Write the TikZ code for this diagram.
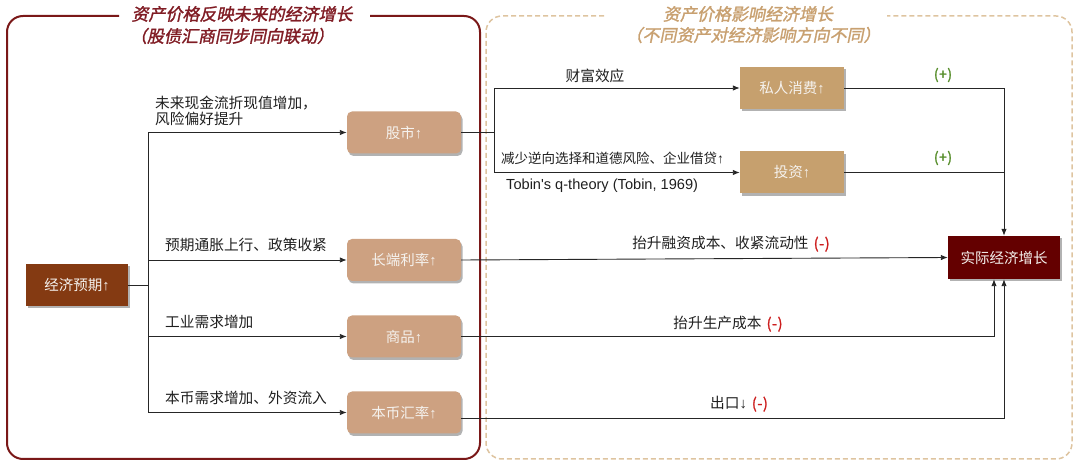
\documentclass[tikz,border=0pt]{standalone}
\usepackage{fontspec}
\setmainfont{Noto Sans CJK SC}
\newfontfamily\latinfont{Liberation Sans}
\newfontfamily\titlefont[FakeSlant=0.2,FakeBold=1.5]{Noto Sans CJK SC}
\newfontfamily\boldcjk[FakeBold=1.5]{Noto Sans CJK SC}
\usetikzlibrary{arrows.meta,shadows}

\definecolor{leftred}{RGB}{122,24,24}
\definecolor{titlered}{RGB}{128,28,36}
\definecolor{tanline}{RGB}{222,196,160}
\definecolor{tantitle}{RGB}{200,160,112}
\definecolor{expfill}{RGB}{132,58,18}
\definecolor{assetfill}{RGB}{205,161,129}
\definecolor{effectfill}{RGB}{198,160,110}
\definecolor{growthfill}{RGB}{100,0,0}
\definecolor{minusred}{RGB}{204,30,30}
\definecolor{plusgreen}{RGB}{84,140,40}
\definecolor{boxtext}{RGB}{245,242,238}

\newcommand\uparr{{\latinfont ↑}}
\newcommand\downarr{{\latinfont ↓}}
\newcommand\minussign{\kern5pt{\boldcjk\color{minusred}(\kern0.5pt-\kern0.5pt)}}

\tikzset{
  boxbase/.style={minimum height=42pt, text=boxtext, inner sep=0pt,
    font=\fontsize{14.5}{16}\selectfont,
    drop shadow={shadow xshift=1.5pt,shadow yshift=-2.5pt,opacity=0.3,fill=black}},
  asset/.style={boxbase, fill=assetfill, rounded corners=5pt, minimum width=114pt},
  effect/.style={boxbase, fill=effectfill, minimum width=104pt},
  expbox/.style={boxbase, fill=expfill, minimum width=102pt},
  growth/.style={boxbase, fill=growthfill, minimum width=112pt, minimum height=43pt},
  lbl/.style={font=\fontsize{14.7}{16}\selectfont, inner sep=0pt, text=black!88},
  plus/.style={font=\boldcjk\fontsize{14}{16}\selectfont, inner sep=0pt, text=plusgreen},
  ttl/.style={font=\titlefont\fontsize{17}{19}\selectfont, inner sep=0pt},
  conn/.style={draw=black!85, line width=0.9pt},
  arr/.style={conn, -{Latex[length=7pt,width=5.5pt]}},
}

\begin{document}
\begin{tikzpicture}[x=1pt,y=-1pt]
\useasboundingbox (0,0) rectangle (1080,470);

% frames
\draw[leftred, line width=2pt, rounded corners=16pt]
  (119,16) -- (7,16) -- (7,459) -- (480,459) -- (480,16) -- (370,16);
\draw[tanline, line width=1.5pt, dash pattern=on 5pt off 3pt, rounded corners=16pt]
  (604,16) -- (486,16) -- (486,459) -- (1072,459) -- (1072,16) -- (887,16);

\node[ttl, text=titlered] (t1) at (242,14) {资产价格反映未来的经济增长};
\node[ttl, text=titlered] (t2) at (232,36) {（股债汇商同步同向联动）};
\node[ttl, text=tantitle] (t3) at (748,14) {资产价格影响经济增长};
\node[ttl, text=tantitle] (t4) at (753,35) {（不同资产对经济影响方向不同）};

% nodes
\node[expbox] (exp) at (77,285) {经济预期\uparr};
\node[asset] (stock) at (404,132.5) {股市\uparr};
\node[asset] (rate) at (404,260) {长端利率\uparr};
\node[asset] (comm) at (404,336.5) {商品\uparr};
\node[asset] (fx) at (404,412.5) {本币汇率\uparr};
\node[effect] (cons) at (792,88) {私人消费\uparr};
\node[effect] (inv) at (792,172.5) {投资\uparr};
\node[growth] (grow) at (1004,257.5) {实际经济增长};

% connectors left
\coordinate (tr) at (148,285);
\draw[conn] (exp.east) -- (tr);
\draw[arr] (tr) |- (stock.west);
\draw[arr] (tr) |- (rate.west);
\draw[arr] (tr) |- (comm.west);
\draw[arr] (tr) |- (fx.west);

% connectors right
\coordinate (fork) at (494,132.5);
\draw[conn] (stock.east) -- (fork);
\draw[arr] (fork) |- (cons.west);
\draw[arr] (fork) |- (inv.west);
\draw[arr] (cons.east) -| (grow.north);
\draw[conn] (inv.east) -- (inv.east -| grow.north);
\draw[arr] (rate.east) -- (grow.west);
\coordinate (gs1) at ([xshift=-10pt]grow.south);
\draw[arr] (comm.east) -| (gs1);
\coordinate (fxout) at ([yshift=-6pt]fx.east);
\draw[arr] (fxout) -| (grow.south);

% labels
\node[lbl, anchor=west, align=left] (l1) at (155,110.5) {未来现金流折现值增加，\\风险偏好提升};
\node[lbl, anchor=west] (l2) at (165,245) {预期通胀上行、政策收紧};
\node[lbl, anchor=west] (l3) at (165,322) {工业需求增加};
\node[lbl, anchor=west] (l4) at (165,398) {本币需求增加、外资流入};
\node[lbl] (l5) at (595,76) {财富效应};
\node[lbl, anchor=west, font=\fontsize{13.5}{15}\selectfont] (l6) at (501,158) {减少逆向选择和道德风险、企业借贷\uparr};
\node[lbl, anchor=west, font=\latinfont\fontsize{14.6}{16}\selectfont] (l7) at (506,186) {Tobin's q-theory (Tobin, 1969)};
\node[plus] (p1) at (943,75) {(\kern0.5pt+\kern0.5pt)};
\node[plus] (p2) at (943,158) {(\kern0.5pt+\kern0.5pt)};
\node[lbl] (l8) at (731,244) {抬升融资成本、收紧流动性\minussign};
\node[lbl] (l9) at (728,324) {抬升生产成本\minussign};
\node[lbl] (l10) at (739,404) {出口\downarr\minussign};
\end{tikzpicture}
\end{document}
